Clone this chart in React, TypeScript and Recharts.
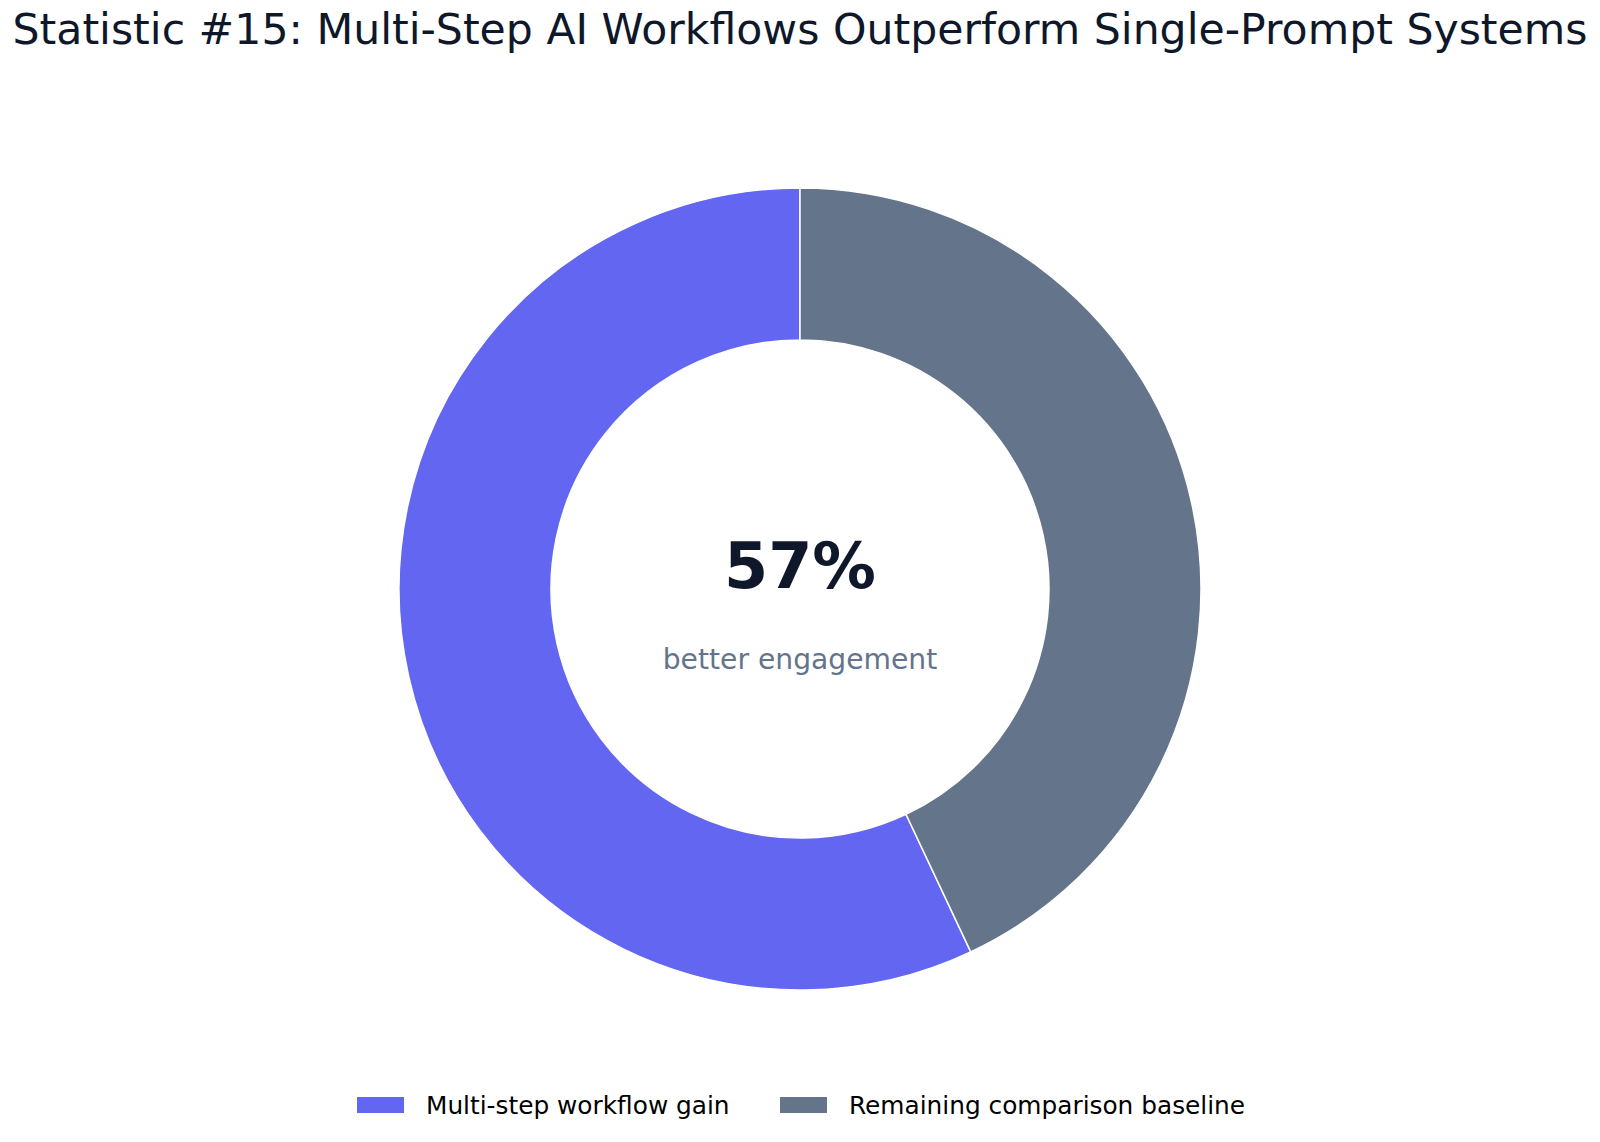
import React from 'react';
import { PieChart, Pie, Cell, Legend, Label } from 'recharts';

const categories = ['Multi-step workflow gain', 'Remaining comparison baseline'];
const values = [57, 43];
const colors = ['#6366F1', '#64748B'];
const titleText = 'Statistic #15: Multi-Step AI Workflows Outperform Single-Prompt Systems';
const centerValue = '57%';
const centerCaption = 'better engagement';

const data = categories.map((name, i) => ({ name, value: values[i] }));

const FONT = '"DejaVu Sans", sans-serif';

const CenterLabel = (props: any) => {
  const vb = props.viewBox || {};
  const cx = vb.cx ?? 800;
  const cy = vb.cy ?? 589;
  return (
    <g>
      <text x={cx} y={cy - 1} textAnchor="middle" fontFamily={FONT} fontWeight="bold" fontSize={63.5} fill="#0F172A">
        {centerValue}
      </text>
      <text x={cx} y={cy + 80} textAnchor="middle" fontFamily={FONT} fontSize={28.2} fill="#64748B">
        {centerCaption}
      </text>
    </g>
  );
};

const LegendContent = () => (
  <div style={{ position: 'absolute', left: 0, top: 0, width: 1600, height: 40 }}>
    {data.map((d, i) => (
      <div key={d.name} style={{ position: 'absolute', left: i === 0 ? 357 : 780, top: 0, display: 'flex', alignItems: 'center', height: 28 }}>
        <div style={{ width: 47, height: 16, background: colors[i] }} />
        <span style={{ marginLeft: 22, fontFamily: FONT, fontSize: 24.8, color: '#000', whiteSpace: 'nowrap' }}>{d.name}</span>
      </div>
    ))}
  </div>
);

export default function App() {
  return (
    <div style={{ position: 'fixed', left: 0, top: 0, width: 1600, height: 1142, background: '#fff' }}>
      <svg width={1600} height={70} style={{ position: 'absolute', left: 0, top: 0 }}>
        <text x={800} y={44} textAnchor="middle" fontFamily={FONT} fontSize={42.6} fill="#0F172A">
          {titleText}
        </text>
      </svg>
      <PieChart width={1600} height={1142} margin={{ top: 0, right: 0, bottom: 0, left: 0 }}>
        <Pie
          data={data}
          dataKey="value"
          nameKey="name"
          cx={800}
          cy={589}
          innerRadius={249}
          outerRadius={401}
          startAngle={90}
          endAngle={450}
          stroke="#FFFFFF"
          strokeWidth={1.5}
          isAnimationActive={false}
        >
          {data.map((d, i) => (
            <Cell key={d.name} fill={colors[i]} />
          ))}
          <Label position="center" content={<CenterLabel />} />
        </Pie>
        <Legend
          content={<LegendContent />}
          wrapperStyle={{ position: 'absolute', left: 0, top: 1091, width: 1600, height: 30 }}
        />
      </PieChart>
    </div>
  );
}
